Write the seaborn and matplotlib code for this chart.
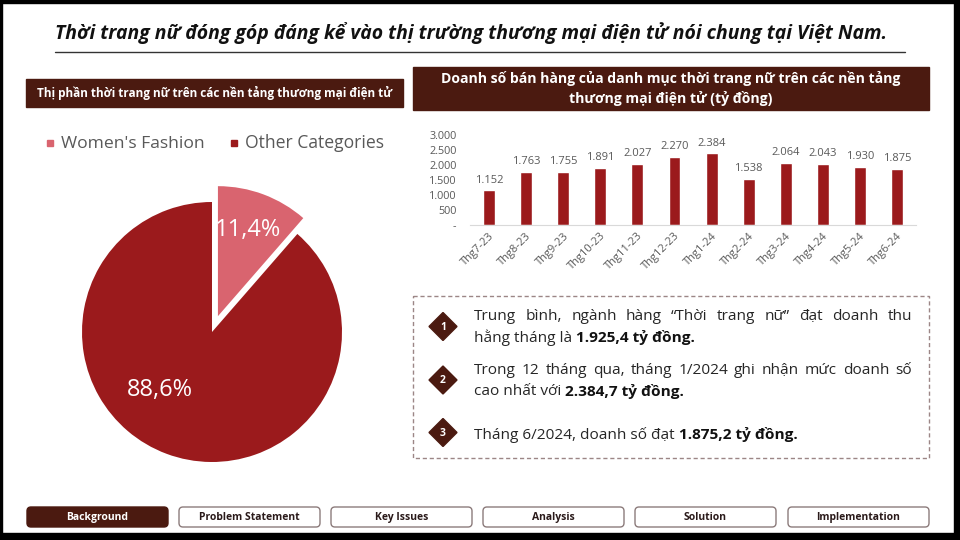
import numpy as np
import pandas as pd
import matplotlib
matplotlib.use("Agg")
import matplotlib.pyplot as plt
import seaborn as sns
from matplotlib.patches import FancyBboxPatch, Rectangle, Polygon

# ---------------- data ----------------
title = "Thời trang nữ đóng góp đáng kể vào thị trường thương mại điện tử nói chung tại Việt Nam."
pie_title = "Thị phần thời trang nữ trên các nền tảng thương mại điện tử"
bar_title_1 = "Doanh số bán hàng của danh mục thời trang nữ trên các nền tảng"
bar_title_2 = "thương mại điện tử (tỷ đồng)"
share_labels = ["Women's Fashion", "Other Categories"]
share_values = [11.4, 88.6]
share_text = ["11,4%", "88,6%"]
months = ["Thg7-23", "Thg8-23", "Thg9-23", "Thg10-23", "Thg11-23", "Thg12-23",
          "Thg1-24", "Thg2-24", "Thg3-24", "Thg4-24", "Thg5-24", "Thg6-24"]
sales = [1152, 1763, 1755, 1891, 2027, 2270, 2384, 1538, 2064, 2043, 1930, 1875]
yticks = [0, 500, 1000, 1500, 2000, 2500, 3000]
ytick_labels = ["-", "500", "1.000", "1.500", "2.000", "2.500", "3.000"]
note_lines = [
    [("Trung bình, ngành hàng “Thời trang nữ” đạt doanh thu", "normal")],
    [("hằng tháng là ", "normal"), ("1.925,4 tỷ đồng.", "bold")],
    [("Trong 12 tháng qua, tháng 1/2024 ghi nhận mức doanh số", "normal")],
    [("cao nhất với ", "normal"), ("2.384,7 tỷ đồng.", "bold")],
    [("Tháng 6/2024, doanh số đạt ", "normal"), ("1.875,2 tỷ đồng.", "bold")],
]
note_numbers = ["1", "2", "3"]
nav = ["Background", "Problem Statement", "Key Issues", "Analysis", "Solution", "Implementation"]

# ---------------- style ----------------
DARK = "#9B1A1C"
PINK = "#D9646F"
BROWN = "#4B1A10"
GRAY = "#595959"

sns.set_theme(style="white")
plt.rcParams['font.family'] = ['Open Sans', 'DejaVu Sans']

fig = plt.figure(figsize=(9.6, 5.4), dpi=100)
fig.patch.set_facecolor("white")

bg = fig.add_axes([0, 0, 1, 1])
bg.set_xlim(0, 960)
bg.set_ylim(540, 0)
bg.axis("off")
bg.set_zorder(0)

renderer = fig.canvas.get_renderer()


def width_of(t):
    return t.get_window_extent(renderer).width


def fit(t, target):
    w = width_of(t)
    t.set_fontsize(t.get_fontsize() * target / w)


# frame
for r in [(0, 0, 960, 3), (0, 0, 2, 540), (954, 0, 6, 540), (0, 533, 960, 7)]:
    bg.add_patch(Rectangle((r[0], r[1]), r[2], r[3], color="black", zorder=5))

# title
t = bg.text(55, 33, title, fontsize=11.5, fontweight="bold", fontstyle="italic",
            va="center", ha="left", color="#111111")
fit(t, 835)
bg.plot([55, 905], [52, 52], color="#333333", lw=1)

# header boxes
bg.add_patch(Rectangle((26, 79), 377, 28, color=BROWN))
t = bg.text(215, 93.5, pie_title, fontsize=8, fontweight="bold", color="white",
            ha="center", va="center")
fit(t, 360)
bg.add_patch(Rectangle((413, 67), 516, 43, color=BROWN))
t1 = bg.text(671, 79, bar_title_1, fontsize=9.5, fontweight="bold", color="white",
             ha="center", va="center")
fit(t1, 462)
bg.text(671, 99, bar_title_2, fontsize=t1.get_fontsize(), fontweight="bold",
        color="white", ha="center", va="center")

# legend
for (x0, lab, col, tw) in [(47, share_labels[0], PINK, 143), (231, share_labels[1], DARK, 138)]:
    bg.add_patch(Rectangle((x0, 140), 6, 6, color=col))
    t = bg.text(x0 + 14, 143.5, lab, fontsize=12, color=GRAY, ha="left", va="center")
    fit(t, tw)

# ---------------- pie ----------------
cx, cy, R, lim = 212, 332, 130, 1.2
half = R * lim
pax = fig.add_axes([(cx - half) / 960, (540 - cy - half) / 540, 2 * half / 960, 2 * half / 540])
pax.set_zorder(1)
pax.patch.set_alpha(0)
pax.pie(share_values, colors=[PINK, DARK], startangle=90, counterclock=False,
        explode=[0.13, 0], wedgeprops=dict(linewidth=0))
pax.set_xlim(-lim, lim)
pax.set_ylim(-lim, lim)
pax.set_aspect("equal")
pax.axis("off")
for txt, ang, rad in [(share_text[0], np.deg2rad(70.5), 0.83), (share_text[1], np.deg2rad(228.5), 0.60)]:
    pax.text(rad * np.cos(ang), rad * np.sin(ang), txt, color="white", fontsize=17,
             ha="center", va="center")

# ---------------- bars ----------------
sp = 37.1
x_first = 489
left = x_first - sp / 2
bax = fig.add_axes([left / 960, (540 - 225) / 540, 12 * sp / 960, 90 / 540])
bax.set_zorder(1)
bax.patch.set_alpha(0)
df = pd.DataFrame({"month": months, "sales": sales})
sns.barplot(data=df, x="month", y="sales", color=DARK, saturation=1, width=0.32, ax=bax)
bax.set_xlim(-0.5, 11.5)
bax.set_ylim(0, 3000)
bax.set_xlabel("")
bax.set_ylabel("")
bax.set_yticks(yticks)
bax.set_yticklabels(ytick_labels)
bax.tick_params(axis="y", length=0, pad=10, labelsize=7.8, labelcolor=GRAY)
bax.tick_params(axis="x", which="major", length=0, pad=4, labelsize=8, labelcolor=GRAY)
plt.setp(bax.get_xticklabels(), rotation=45, ha="right", rotation_mode="anchor")
for lab in bax.get_yticklabels():
    lab.set_ha("right")
bax.set_xticks(np.arange(-0.5, 12, 1), minor=True)
bax.tick_params(axis="x", which="minor", length=4, color="#D9D9D9", width=0.8, direction="out")
for s in ["top", "right", "left"]:
    bax.spines[s].set_visible(False)
bax.spines["bottom"].set_color("#D9D9D9")
bax.spines["bottom"].set_linewidth(0.8)
bax.bar_label(bax.containers[0], labels=[f"{v:,}".replace(",", ".") for v in sales],
              padding=3.5, fontsize=8, color=GRAY)

# ---------------- notes ----------------
bg.add_patch(Rectangle((413, 296), 516, 162, fill=False, edgecolor="#9C8686",
                       lw=1, linestyle=(0, (3, 2))))
diamond_y = [326.5, 380, 432.5]
for num, dy in zip(note_numbers, diamond_y):
    bg.add_patch(Polygon([(443, dy - 14), (457, dy), (443, dy + 14), (429, dy)],
                         closed=True, color=BROWN))
    bg.text(443, dy + 0.5, num, color="white", fontsize=7.5, fontweight="bold",
            ha="center", va="center")

line_y = [317, 337.5, 370.5, 391.5, 435]
# font size fitted on the last line
probe = bg.text(0, 0, note_lines[4][0][0], fontsize=10.5)
probe_b = bg.text(0, 0, note_lines[4][1][0], fontsize=10.5, fontweight="bold")
wsum = width_of(probe) + width_of(probe_b)
fs = 10.5 * 324 / wsum
probe.remove()
probe_b.remove()

x_text = 474
x_right = 912
for i, (segs, yy) in enumerate(zip(note_lines, line_y)):
    if i in (0, 2):
        words = segs[0][0].split(" ")
        ts = [bg.text(0, yy, w, fontsize=fs, color="#262626", va="center", ha="left")
              for w in words]
        ws = [width_of(tt) for tt in ts]
        gap = (x_right - x_text - sum(ws)) / (len(ws) - 1)
        x = x_text
        for tt, w in zip(ts, ws):
            tt.set_x(x)
            x += w + gap
    else:
        x = x_text
        for s, wt in segs:
            tt = bg.text(x, yy, s, fontsize=fs, fontweight=wt,
                         color="#262626" if wt == "normal" else "#111111",
                         va="center", ha="left")
            x += width_of(tt)

# ---------------- nav buttons ----------------
btn_x = [27, 179, 331, 483, 635, 788]
bw, by, bh = 141, 507, 20
for i, (name, bx) in enumerate(zip(nav, btn_x)):
    active = i == 0
    bg.add_patch(FancyBboxPatch((bx, by), bw, bh, boxstyle="round,pad=0,rounding_size=4",
                                facecolor=BROWN if active else "white",
                                edgecolor=BROWN if active else "#8C7B7B", lw=1))
    bg.text(bx + bw / 2, by + bh / 2 + 3, name, fontsize=7.5, fontweight="bold",
            color="white" if active else "#2a1a1a", ha="center", va="baseline")

fig.savefig("out.png", dpi=100)
